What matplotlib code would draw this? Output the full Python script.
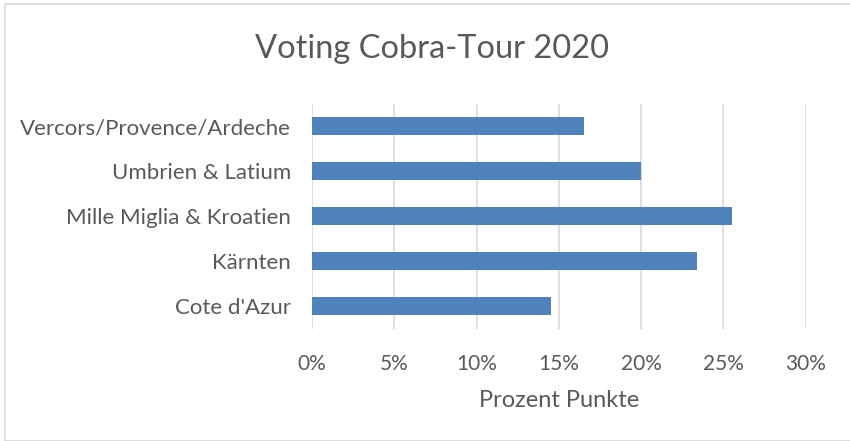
import matplotlib
matplotlib.use("Agg")
import matplotlib.pyplot as plt
from matplotlib.patches import Rectangle
from matplotlib.ticker import FuncFormatter

# data, top to bottom as shown
categories = ["Vercors/Provence/Ardeche", "Umbrien & Latium",
              "Mille Miglia & Kroatien", "Kärnten", "Cote d'Azur"]
values = [16.5, 20.0, 25.5, 23.4, 14.5]
ticks = [0, 5, 10, 15, 20, 25, 30]

TEXT = "#595959"
plt.rcParams["font.family"] = ["Lato", "DejaVu Sans"]

fig = plt.figure(figsize=(8.5, 4.41), dpi=100)
ax = fig.add_axes([0.367, 0.255, 0.581, 0.51])

y = list(range(len(categories)))[::-1]
ax.barh(y, values, height=0.4, color="#4f81bd", zorder=3)

ax.set_xlim(0, 30)
ax.set_ylim(-0.5, len(categories) - 0.5)
ax.set_xticks(ticks)
ax.xaxis.set_major_formatter(FuncFormatter(lambda v, _: f"{v:.0f}%"))
ax.set_yticks(y)
ax.set_yticklabels(categories)
ax.tick_params(length=0, colors=TEXT)
ax.tick_params(axis="x", pad=18, labelsize=15)
ax.tick_params(axis="y", pad=15, labelsize=16)
ax.grid(axis="x", color="#d9d9d9", linewidth=1.2, zorder=0)
for s in ax.spines.values():
    s.set_visible(False)

ax.set_xlabel("Prozent Punkte", fontsize=17, color=TEXT, labelpad=12)
fig.text(0.508, 0.89, "Voting Cobra-Tour 2020", ha="center", va="center",
         fontsize=23.5, color=TEXT)

# chart frame
fig.add_artist(Rectangle((0.006, 0.0), 1.2, 0.99, transform=fig.transFigure,
                         fill=False, edgecolor="#d9d9d9", linewidth=1.2))

fig.savefig("out.png", dpi=100)
